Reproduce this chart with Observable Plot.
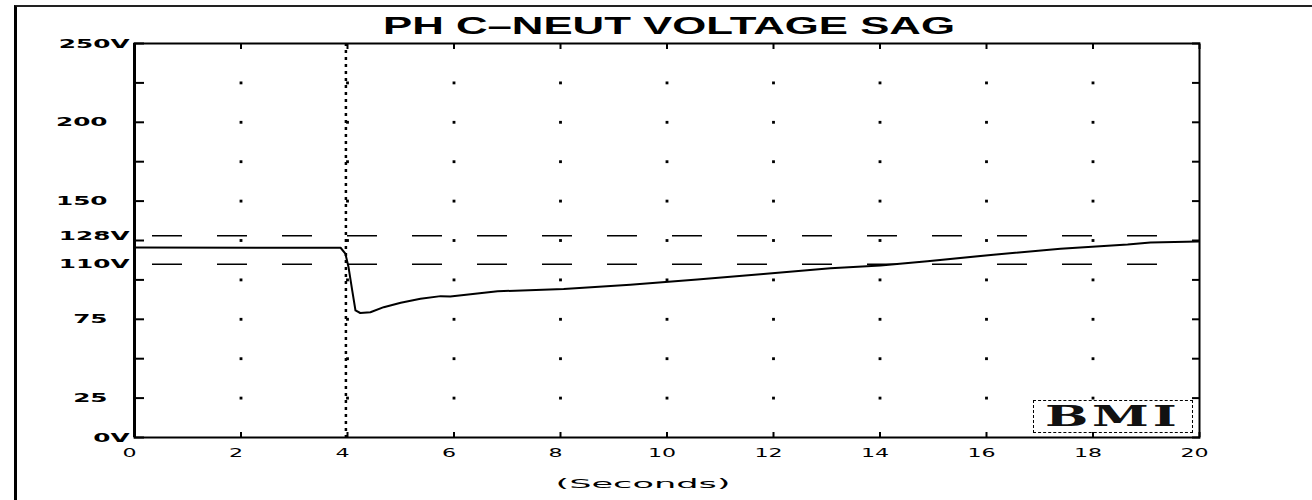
<!DOCTYPE html>
<html><head><meta charset="utf-8">
<script src="https://cdn.jsdelivr.net/npm/d3@7"></script>
<script src="https://cdn.jsdelivr.net/npm/@observablehq/plot@0.6"></script>
<style>
body{margin:0;background:#fff;}
#wrap{position:relative;width:1312px;height:500px;overflow:hidden;background:#fff;}
#wrap svg{position:absolute;left:0;top:0;}
#border{position:absolute;left:14px;top:5px;width:1310px;height:510px;border-left:3px solid #000;border-top:2px solid #222;pointer-events:none;}
#logo{position:absolute;left:1033px;top:400px;width:158px;height:31px;border:1.5px dashed #000;text-align:center;line-height:31px;}
#logo span{display:inline-block;font:bold 27px "DejaVu Serif";letter-spacing:2px;color:#111;transform:scaleX(1.9);}
</style></head><body>
<div id="wrap"><div id="border"></div></div>
<script>
// ---- data ----
const times = [0, 3.87, 3.96, 4.02, 4.09, 4.15, 4.24, 4.43, 4.68, 5.0, 5.37, 5.75, 5.93, 6.82, 8.06, 9.31, 10.57, 11.81, 13.07, 14.01, 14.89, 16.13, 17.39, 18.65, 19.08, 19.98];
const volts = [120.5, 120.4, 116.7, 108, 93, 80.6, 79, 79.5, 82.7, 85.5, 88, 89.7, 89.5, 92.8, 94.3, 96.9, 100.2, 103.8, 107.4, 109.1, 111.9, 116, 119.7, 122.5, 123.8, 124.3];
const xTicks = [0, 2, 4, 6, 8, 10, 12, 14, 16, 18, 20];
const yTicks = [0, 25, 50, 75, 100, 125, 150, 175, 200, 225, 250];
const yLabelVals = [250, 200, 150, 128, 110, 75, 25, 0];
const yLabelText = ["250V", "200", "150", "128V", "110V", "75", "25", "0V"];
const limitLines = [128, 110];
const sagStart = [3.97];
const gridX = [2, 4, 6, 8, 10, 12, 14, 16, 18];
const gridY = [25, 50, 75, 100, 125, 150, 175, 200, 225];
const title = "PH C\u2013NEUT VOLTAGE SAG";
const xLabel = "(Seconds)";
const logoText = "BMI";

const data = times.map((t, i) => ({t, v: volts[i]}));
const labels = yLabelVals.map((v, i) => ({v, text: yLabelText[i]}));
const labV = labels.filter(d => d.text.endsWith("V"));
const labN = labels.filter(d => !d.text.endsWith("V"));
const grid = d3.cross(gridX, gridY, (x, y) => ({x, y}));

const chart = Plot.plot({
  width: 1312, height: 500,
  marginLeft: 134, marginRight: 113, marginTop: 43, marginBottom: 63,
  x: {domain: [0, 20], label: null},
  y: {domain: [0, 250], label: null},
  style: {background: "transparent", fontFamily: "DejaVu Sans", color: "#000"},
  marks: [
    Plot.dot(grid, {x: "x", y: "y", r: 1.6, symbol: "square", fill: "#000"}),
    Plot.ruleY(limitLines, {stroke: "#000", strokeWidth: 1.5, strokeDasharray: "30,35", insetLeft: 18, insetRight: 15}),
    Plot.ruleX(sagStart, {stroke: "#000", strokeWidth: 2.5, strokeDasharray: "3,4"}),
    Plot.frame({stroke: "#000", strokeWidth: 2}),
    Plot.ruleX([0], {stroke: "#000", strokeWidth: 3}),
    Plot.axisY(yTicks, {anchor: "left", tickSize: -10, tickFormat: () => "", strokeWidth: 2, label: null}),
    Plot.axisY(yTicks, {anchor: "right", tickSize: -8, tickFormat: () => "", strokeWidth: 2, label: null}),
    Plot.axisX(xTicks, {anchor: "top", tickSize: -5, tickFormat: () => "", strokeWidth: 2, label: null}),
    Plot.axisX(xTicks, {anchor: "bottom", tickSize: -5, tickFormat: () => "", strokeWidth: 2, label: null}),
    Plot.axisX(xTicks, {anchor: "bottom", tickSize: 0, tickPadding: 10, fontSize: 13, dx: -5, label: null}),
    Plot.text(labV, {y: "v", text: "text", frameAnchor: "left", textAnchor: "end", dx: -5, fontSize: 13, fontWeight: "bold"}),
    Plot.text(labN, {y: "v", text: "text", frameAnchor: "left", textAnchor: "end", dx: -27, fontSize: 13, fontWeight: "bold"}),
    Plot.line(data, {x: "t", y: "v", stroke: "#000", strokeWidth: 2}),
    Plot.text([title], {frameAnchor: "top", lineAnchor: "middle", dy: -17, dx: 2, fontSize: 23, fontWeight: "bold", fontFamily: "Liberation Sans"}),
    Plot.text([xLabel], {frameAnchor: "bottom", lineAnchor: "middle", dy: 46, dx: -24, fontSize: 13})
  ]
});
const wrap = document.getElementById("wrap");
wrap.insertBefore(chart, wrap.firstChild);

function setLen(t, len) {
  t.setAttribute("textLength", len);
  t.setAttribute("lengthAdjust", "spacingAndGlyphs");
}
// x tick labels
chart.querySelectorAll('g[aria-label="x-axis tick label"] text').forEach(t => {
  const w = t.getComputedTextLength();
  if (w > 0) setLen(t, w * 1.7);
});
// text marks in order: labV, labN, title, xLabel
const textGroups = chart.querySelectorAll('g[aria-label="text"]');
[textGroups[0], textGroups[1]].forEach(g => g && g.querySelectorAll("text").forEach(t => {
  const w = t.getComputedTextLength();
  if (w > 0) setLen(t, w * 1.9);
}));
if (textGroups[2]) textGroups[2].querySelectorAll("text").forEach(t => setLen(t, 572));
if (textGroups[3]) textGroups[3].querySelectorAll("text").forEach(t => setLen(t, 175));

const logo = document.createElement("div");
logo.id = "logo";
const sp = document.createElement("span");
sp.textContent = logoText;
logo.appendChild(sp);
wrap.appendChild(logo);
</script>
</body></html>
